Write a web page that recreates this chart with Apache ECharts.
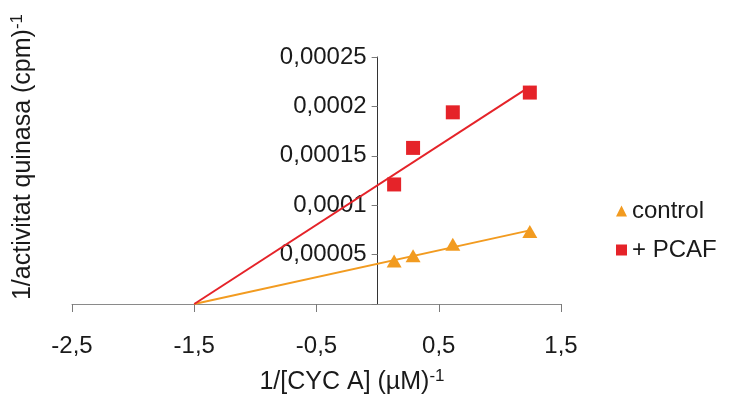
<!DOCTYPE html>
<html>
<head>
<meta charset="utf-8">
<script src="https://cdn.jsdelivr.net/npm/echarts/dist/echarts.min.js"></script>
<style>
  html, body { margin: 0; padding: 0; background: #ffffff; }
  #chart { width: 729px; height: 409px; }
</style>
</head>
<body>
<div id="chart"></div>
<script>
// Lineweaver-Burk style plot: 1/kinase activity vs 1/[CYC A]
const concentrations = [0.135, 0.29, 0.615, 1.245];          // 1/[CYC A] (µM)^-1
const controlValues  = [0.0000434, 0.0000488, 0.0000606, 0.0000733];
const pcafValues     = [0.000121, 0.000158, 0.000194, 0.000214];

// Fitted lines, extended back to the common x-intercept
const controlFit = [[-1.5, 0], [1.245, 0.0000745]];
const pcafFit    = [[-1.5, 0], [1.245, 0.00022]];

const xTickLabels = ['-2,5', '-1,5', '-0,5', '0,5', '1,5'];
const yTickLabels = ['', '0,00005', '0,0001', '0,00015', '0,0002', '0,00025'];

const seriesNames = ['control', '+ PCAF'];

const X_MIN = -2.5, X_MAX = 1.5;

const FONT = "'Liberation Sans', Arial, Helvetica, sans-serif";
const TEXT = '#1a1a1a';
const ORANGE = '#f29b20';
const RED = '#e52329';

const GRID = { left: 72, right: 168, top: 57, bottom: 105 };
const PLOT_W = 729 - GRID.left - GRID.right;
// the y axis sits where x = 0, so shift it in from the grid's left edge
const yAxisShift = -PLOT_W * (0 - X_MIN) / (X_MAX - X_MIN);

const pair = (xs, ys) => xs.map((x, i) => [x, ys[i]]);

// axis title with a superscript exponent
const titleStyle = (main, exp) => ({
  text: `{m|${main}}{s|${exp}}`,
  align: 'center', verticalAlign: 'middle',
  textAlign: 'center', textVerticalAlign: 'middle',
  fill: TEXT,
  rich: {
    m: { fontSize: 25, fontFamily: FONT, lineHeight: 28, fill: TEXT },
    s: { fontSize: 17, fontFamily: FONT, lineHeight: 17, verticalAlign: 'top', fill: TEXT }
  }
});

const chart = echarts.init(document.getElementById('chart'), null, { renderer: 'canvas' });

chart.setOption({
  animation: false,
  backgroundColor: '#ffffff',
  grid: Object.assign({ containLabel: false, outerBoundsMode: 'none' }, GRID),
  xAxis: {
    type: 'value',
    min: X_MIN, max: X_MAX, interval: 1,
    axisLine: { show: true, onZero: true, lineStyle: { color: '#8a8a8a', width: 1 } },
    axisTick: { show: true, inside: false, length: 8, lineStyle: { color: '#7a7a7a' } },
    axisLabel: {
      margin: 30, fontSize: 24, fontFamily: FONT, color: TEXT,
      formatter: (v, i) => xTickLabels[i] ?? ''
    },
    splitLine: { show: false }
  },
  yAxis: {
    type: 'value',
    min: 0, max: 0.00025, interval: 0.00005,
    position: 'left',
    offset: yAxisShift,
    axisLine: { show: true, onZero: false, lineStyle: { color: '#333333', width: 1 } },
    axisTick: { show: true, inside: false, length: 6, lineStyle: { color: '#7a7a7a' } },
    axisLabel: {
      margin: 11, fontSize: 24, fontFamily: FONT, color: TEXT,
      formatter: (v, i) => yTickLabels[i] ?? ''
    },
    splitLine: { show: false }
  },
  legend: {
    orient: 'vertical',
    left: 616, top: 199,
    padding: 0,
    itemGap: 15,
    itemWidth: 11, itemHeight: 11,
    textStyle: { fontSize: 24, fontFamily: FONT, color: TEXT },
    data: [
      { name: seriesNames[0], icon: 'triangle' },
      { name: seriesNames[1], icon: 'rect' }
    ]
  },
  series: [
    {
      name: 'control-fit', type: 'line', data: controlFit,
      symbol: 'none', silent: true, z: 2,
      lineStyle: { color: ORANGE, width: 2 }
    },
    {
      name: 'pcaf-fit', type: 'line', data: pcafFit,
      symbol: 'none', silent: true, z: 2,
      lineStyle: { color: RED, width: 2 }
    },
    {
      name: seriesNames[0], type: 'scatter', data: pair(concentrations, controlValues),
      symbol: 'triangle', symbolSize: [15, 13], z: 3,
      itemStyle: { color: ORANGE, opacity: 1 }
    },
    {
      name: seriesNames[1], type: 'scatter', data: pair(concentrations, pcafValues),
      symbol: 'rect', symbolSize: 14, z: 3,
      itemStyle: { color: RED, opacity: 1 }
    }
  ],
  graphic: [
    {
      type: 'text',
      x: 352, y: 382,
      style: titleStyle('1/[CYC A] (µM)', '-1')
    },
    {
      type: 'text',
      x: 23, y: 157,
      rotation: Math.PI / 2,
      style: titleStyle('1/activitat quinasa (cpm)', '-1')
    }
  ]
});
</script>
</body>
</html>
